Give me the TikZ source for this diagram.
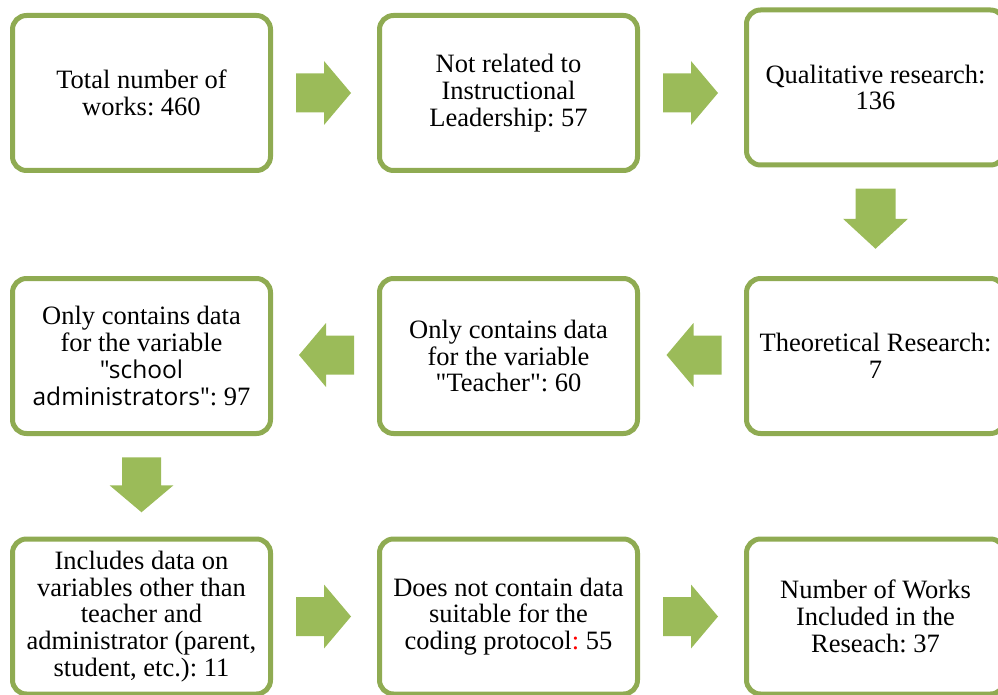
\documentclass[tikz,border=0pt]{standalone}
\usepackage{fontspec}
\setmainfont{Liberation Serif}
\newfontfamily\osans{Open Sans}
\newfontfamily\plainserif{Liberation Serif}
\usetikzlibrary{calc}
\definecolor{boxline}{RGB}{143,171,82}
\definecolor{arrowfill}{RGB}{155,187,89}
\begin{document}
\begin{tikzpicture}[x=1pt,y=-1pt,
  box/.style={draw=boxline, line width=5pt, rounded corners=14pt,
    minimum width=258pt, minimum height=155pt, inner sep=0pt,
    align=center, font=\fontsize{26.5}{26.7}\selectfont\frenchspacing},
  blockarrow/.pic={\fill[arrowfill] (-27.5,-19.5) -- (0.5,-19.5) -- (0.5,-32) -- (27.5,0) -- (0.5,32) -- (0.5,19.5) -- (-27.5,19.5) -- cycle;},
  longarrow/.pic={\fill[arrowfill] (-30,-20) -- (0,-20) -- (0,-32.5) -- (30,0) -- (0,32.5) -- (0,20) -- (-30,20) -- cycle;}
]
\useasboundingbox (0,0) rectangle (998,695);
\clip (0,0) rectangle (998,695);

\node[box] (b1) at (141.5,93) {Total number of\\works: 460};
\node[box] (b2) at (508.5,93) {Not related to\\Instructional\\Leadership: 57};
\node[box] (b3) at (875.5,87.5) {Qualitative research:\\136};
\node[box] (b6) at (875.5,356) {Theoretical Research:\\7};
\node[box] (b5) at (508.5,356) {Only contains data\\for the variable\\{\plainserif"}Teacher{\plainserif"}: 60};
\node[box] (b4) at (141.5,356) {Only contains data\\for the variable\\{\osans\fontsize{24.5}{26.7}\selectfont "school}\\{\osans\fontsize{24.5}{26.7}\selectfont administrators"}: 97};
\node[box] (b7) at (141.5,616.5) {Includes data on\\variables other than\\teacher and\\administrator (parent,\\student, etc.): 11};
\node[box] (b8) at (508.5,616.5) {Does not contain data\\suitable for the\\coding protocol\textcolor{red}{:} 55};
\node[box] (b9) at (875.5,616.5) {Number of Works\\Included in the\\Reseach: 37};

\pic at ($(b1.east)!.5!(b2.west)+(-1.5,0)$) {blockarrow};
\pic at ($(b2.east)!.5!(b3.west |- b2.east)+(-1.5,0)$) {blockarrow};
\pic[rotate=-90] at ($(b3.south)!.5!(b6.north)+(0,-3)$) {longarrow};
\pic[rotate=180] at ($(b6.west)!.5!(b5.east)+(2,-1)$) {blockarrow};
\pic[rotate=180] at ($(b5.west)!.5!(b4.east)+(1.5,-1)$) {blockarrow};
\pic[rotate=-90] at ($(b4.south)!.5!(b7.north)+(0,-1.5)$) {blockarrow};
\pic at ($(b7.east)!.5!(b8.west)+(-1.5,0)$) {blockarrow};
\pic at ($(b8.east)!.5!(b9.west)+(-1.5,0)$) {blockarrow};
\end{tikzpicture}
\end{document}
